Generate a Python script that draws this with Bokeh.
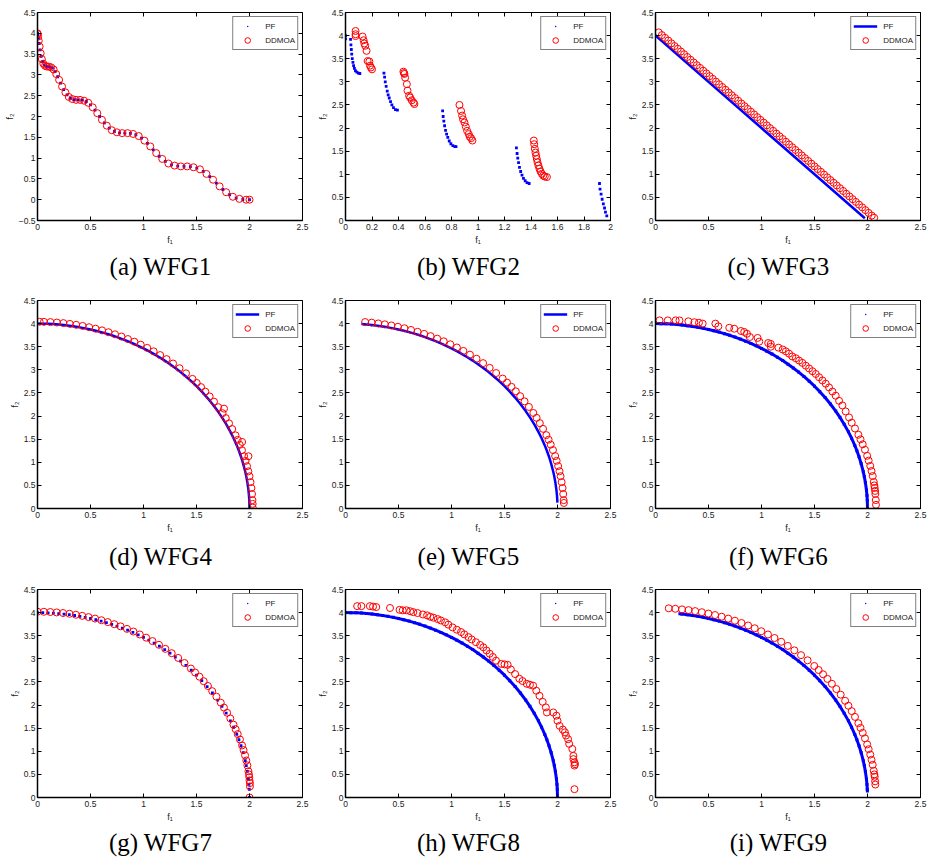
from bokeh.plotting import figure
from bokeh.layouts import gridplot
from bokeh.models import FixedTicker, CustomJSTickFormatter, Range1d, LinearAxis
from bokeh.embed import file_html
from bokeh.resources import INLINE

# ---------------- data ----------------
X_TICKS = [0, 0.5, 1, 1.5, 2, 2.5]
X_TICKS_B = [0, 0.2, 0.4, 0.6, 0.8, 1, 1.2, 1.4, 1.6, 1.8, 2]
Y_TICKS = [0, 0.5, 1, 1.5, 2, 2.5, 3, 3.5, 4, 4.5]
Y_TICKS_A = [-0.5, 0, 0.5, 1, 1.5, 2, 2.5, 3, 3.5, 4, 4.5]

CAPTIONS = ["(a) WFG1", "(b) WFG2", "(c) WFG3", "(d) WFG4", "(e) WFG5",
            "(f) WFG6", "(g) WFG7", "(h) WFG8", "(i) WFG9"]

# WFG1
WFG1_PF_F1 = [0.000, 0.001, 0.004, 0.009, 0.016, 0.025, 0.035, 0.048, 0.063, 0.079,
              0.098, 0.118, 0.140, 0.165, 0.190, 0.218, 0.247, 0.279, 0.311, 0.346,
              0.382, 0.420, 0.459, 0.500, 0.542, 0.586, 0.631, 0.677, 0.725, 0.774,
              0.824, 0.876, 0.928, 0.982, 1.037, 1.092, 1.148, 1.206, 1.264, 1.323,
              1.382, 1.442, 1.503, 1.564, 1.625, 1.687, 1.749, 1.812, 1.874, 1.937, 2.000]
WFG1_PF_F2 = [4.000, 3.995, 3.961, 3.881, 3.755, 3.600, 3.445, 3.319, 3.239, 3.205,
              3.200, 3.195, 3.161, 3.081, 2.955, 2.800, 2.645, 2.519, 2.439, 2.405,
              2.400, 2.395, 2.361, 2.281, 2.155, 2.000, 1.845, 1.719, 1.639, 1.605,
              1.600, 1.595, 1.561, 1.481, 1.355, 1.200, 1.045, 0.919, 0.839, 0.805,
              0.800, 0.795, 0.761, 0.681, 0.555, 0.400, 0.245, 0.119, 0.039, 0.005, 0.000]
WFG1_DD_F1 = [0.000, 0.002, 0.006, 0.012, 0.020, 0.030, 0.041, 0.055, 0.071, 0.088, 0.108,
              0.129, 0.152, 0.177, 0.204, 0.232, 0.263, 0.295, 0.328, 0.364, 0.401,
              0.439, 0.479, 0.521, 0.564, 0.608, 0.654, 0.701, 0.749, 0.799, 0.850,
              0.902, 0.955, 1.009, 1.064, 1.120, 1.177, 1.235, 1.293, 1.352, 1.412,
              1.472, 1.533, 1.594, 1.656, 1.718, 1.780, 1.843, 1.905, 1.968, 2.000]
WFG1_DD_F2 = [4.00, 3.98, 3.92, 3.82, 3.68, 3.52, 3.38, 3.27, 3.22, 3.20, 3.20,
              3.18, 3.13, 3.02, 2.88, 2.72, 2.58, 2.47, 2.42, 2.40, 2.40,
              2.38, 2.33, 2.22, 2.08, 1.92, 1.78, 1.67, 1.62, 1.60, 1.60,
              1.58, 1.53, 1.42, 1.28, 1.12, 0.98, 0.87, 0.82, 0.80, 0.80,
              0.78, 0.73, 0.62, 0.48, 0.32, 0.18, 0.07, 0.02, 0.00, 0.00]

# WFG2
WFG2_PF_F1 = [0.000, 0.000, 0.038, 0.041, 0.044, 0.047, 0.051, 0.056, 0.061, 0.067, 0.075, 0.086, 0.097, 0.108,
              0.290, 0.295, 0.300, 0.307, 0.315, 0.322, 0.330, 0.340, 0.350, 0.362, 0.377, 0.392,
              0.733, 0.737, 0.742, 0.748, 0.755, 0.763, 0.772, 0.783, 0.795, 0.810, 0.825, 0.834,
              1.290, 1.295, 1.300, 1.306, 1.313, 1.322, 1.332, 1.343, 1.356, 1.370, 1.386,
              1.917, 1.921, 1.929, 1.937, 1.946, 1.955, 1.962, 1.972]
WFG2_PF_F2 = [4.00, 3.93, 3.92, 3.80, 3.70, 3.60, 3.50, 3.42, 3.35, 3.29, 3.24, 3.21, 3.19, 3.18,
              3.19, 3.10, 3.00, 2.90, 2.80, 2.72, 2.65, 2.57, 2.50, 2.44, 2.40, 2.39,
              2.37, 2.25, 2.15, 2.05, 1.95, 1.87, 1.80, 1.72, 1.66, 1.62, 1.60, 1.60,
              1.57, 1.45, 1.35, 1.25, 1.15, 1.06, 0.98, 0.91, 0.86, 0.82, 0.80,
              0.80, 0.68, 0.57, 0.46, 0.36, 0.27, 0.18, 0.10]
WFG2_DD_F1 = [0.076, 0.076, 0.076, 0.129, 0.137, 0.142, 0.149, 0.159, 0.167, 0.180, 0.185, 0.192, 0.200,
              0.437, 0.441, 0.445, 0.450, 0.463, 0.468, 0.480, 0.488, 0.500, 0.513, 0.520,
              0.860, 0.872, 0.880, 0.887, 0.898, 0.908, 0.918, 0.930, 0.938, 0.948, 0.958,
              1.421, 1.424, 1.429, 1.434, 1.439, 1.444, 1.449, 1.456, 1.464, 1.472, 1.482, 1.492, 1.504, 1.520]
WFG2_DD_F2 = [4.10, 4.03, 3.99, 3.98, 3.90, 3.83, 3.78, 3.67, 3.45, 3.44, 3.35, 3.31, 3.27,
              3.22, 3.19, 3.17, 3.09, 2.95, 2.81, 2.70, 2.66, 2.60, 2.55, 2.52,
              2.50, 2.37, 2.27, 2.19, 2.12, 2.03, 1.94, 1.87, 1.81, 1.78, 1.73,
              1.73, 1.65, 1.55, 1.47, 1.40, 1.33, 1.26, 1.19, 1.12, 1.06, 1.01, 0.97, 0.95, 0.94]

# WFG3
WFG3_PF_F1 = [0.0, 0.5, 1.0, 1.5, 1.975]
WFG3_PF_F2 = [4.0, 3.0, 2.0, 1.0, 0.05]
WFG3_DD_F1 = [0.03, 0.06, 0.09, 0.12, 0.15, 0.18, 0.21, 0.24, 0.27, 0.30,
              0.33, 0.36, 0.39, 0.42, 0.45, 0.48, 0.51, 0.54, 0.57, 0.60,
              0.63, 0.66, 0.69, 0.72, 0.75, 0.78, 0.81, 0.84, 0.87, 0.90,
              0.93, 0.96, 0.99, 1.02, 1.05, 1.08, 1.11, 1.14, 1.17, 1.20,
              1.23, 1.26, 1.29, 1.32, 1.35, 1.38, 1.41, 1.44, 1.47, 1.50,
              1.53, 1.56, 1.59, 1.62, 1.65, 1.68, 1.71, 1.74, 1.77, 1.80,
              1.83, 1.86, 1.89, 1.92, 1.95, 1.98, 2.01, 2.04, 2.063]
WFG3_DD_F2 = [4.070, 4.011, 3.952, 3.893, 3.833, 3.774, 3.715, 3.656, 3.597, 3.538,
              3.478, 3.419, 3.360, 3.301, 3.242, 3.183, 3.123, 3.064, 3.005, 2.946,
              2.887, 2.828, 2.768, 2.709, 2.650, 2.591, 2.532, 2.473, 2.413, 2.354,
              2.295, 2.236, 2.177, 2.118, 2.059, 1.999, 1.940, 1.881, 1.822, 1.763,
              1.704, 1.644, 1.585, 1.526, 1.467, 1.408, 1.349, 1.289, 1.230, 1.171,
              1.112, 1.053, 0.994, 0.934, 0.875, 0.816, 0.757, 0.698, 0.639, 0.579,
              0.520, 0.461, 0.402, 0.343, 0.284, 0.224, 0.165, 0.106, 0.060]

# concave true front shared by WFG4, WFG6, WFG7, WFG8
PF_CONCAVE_F1 = [0, 0.05, 0.1, 0.15, 0.2, 0.25, 0.3, 0.35, 0.4, 0.45, 0.5, 0.55, 0.6, 0.65,
                 0.7, 0.75, 0.8, 0.85, 0.9, 0.95, 1.0, 1.05, 1.1, 1.15, 1.2, 1.25, 1.3, 1.35,
                 1.4, 1.45, 1.5, 1.55, 1.6, 1.65, 1.7, 1.74, 1.78, 1.82, 1.85, 1.88, 1.9,
                 1.92, 1.94, 1.96, 1.97, 1.98, 1.99, 1.995, 1.998, 2.0]
PF_CONCAVE_F2 = [4.000, 3.999, 3.995, 3.989, 3.980, 3.969, 3.955, 3.938, 3.919, 3.897,
                 3.873, 3.846, 3.816, 3.783, 3.747, 3.708, 3.666, 3.621, 3.572, 3.520,
                 3.464, 3.404, 3.341, 3.273, 3.200, 3.122, 3.040, 2.951, 2.857, 2.755,
                 2.646, 2.528, 2.400, 2.261, 2.107, 1.972, 1.824, 1.658, 1.520, 1.365,
                 1.249, 1.120, 0.972, 0.796, 0.690, 0.564, 0.399, 0.283, 0.179, 0.000]

# WFG4
WFG4_DD_F1 = [0.020, 0.061, 0.122, 0.183, 0.244, 0.305, 0.365, 0.426, 0.487, 0.548,
              0.609, 0.670, 0.731, 0.792, 0.853, 0.914, 0.974, 1.035, 1.096, 1.157,
              1.218, 1.279, 1.340, 1.401, 1.462, 1.502, 1.543, 1.583, 1.624, 1.665,
              1.705, 1.746, 1.760, 1.776, 1.807, 1.837, 1.868, 1.888, 1.908, 1.930,
              1.929, 1.949, 1.963, 1.977, 1.990, 1.989, 2.000, 2.010, 2.018, 2.024,
              2.028, 2.030, 2.030]
WFG4_DD_F2 = [4.040, 4.038, 4.033, 4.024, 4.011, 3.994, 3.974, 3.950, 3.922, 3.890,
              3.854, 3.814, 3.769, 3.720, 3.666, 3.608, 3.544, 3.475, 3.400, 3.319,
              3.232, 3.137, 3.035, 2.924, 2.804, 2.717, 2.626, 2.528, 2.424, 2.312,
              2.192, 2.062, 2.160, 1.956, 1.842, 1.719, 1.583, 1.485, 1.378, 1.440,
              1.261, 1.131, 1.029, 0.915, 1.130, 0.804, 0.697, 0.570, 0.442, 0.313,
              0.181, 0.100, 0.020]

# WFG5
WFG5_PF_F1 = [0.15, 0.2, 0.25, 0.3, 0.35, 0.4, 0.45, 0.5, 0.55, 0.6, 0.65, 0.7, 0.75, 0.8,
              0.85, 0.9, 0.95, 1.0, 1.05, 1.1, 1.15, 1.2, 1.25, 1.3, 1.35, 1.4, 1.45, 1.5,
              1.55, 1.6, 1.65, 1.7, 1.74, 1.78, 1.82, 1.85, 1.88, 1.9, 1.92, 1.94, 1.96,
              1.97, 1.98, 1.99, 1.995, 1.998, 1.999]
WFG5_PF_F2 = [3.989, 3.980, 3.969, 3.955, 3.938, 3.919, 3.897, 3.873, 3.846, 3.816,
              3.783, 3.747, 3.708, 3.666, 3.621, 3.572, 3.520, 3.464, 3.404, 3.341,
              3.273, 3.200, 3.122, 3.040, 2.951, 2.857, 2.755, 2.646, 2.528, 2.400,
              2.261, 2.107, 1.972, 1.824, 1.658, 1.520, 1.365, 1.249, 1.120, 0.972,
              0.796, 0.690, 0.564, 0.399, 0.283, 0.179, 0.126]
WFG5_DD_F1 = [0.185, 0.247, 0.309, 0.371, 0.433, 0.494, 0.556, 0.618, 0.680, 0.742,
              0.803, 0.865, 0.927, 0.989, 1.051, 1.112, 1.174, 1.236, 1.298, 1.360,
              1.421, 1.483, 1.524, 1.566, 1.607, 1.648, 1.689, 1.730, 1.772, 1.803,
              1.833, 1.864, 1.895, 1.916, 1.936, 1.957, 1.978, 1.992, 2.006, 2.019,
              2.029, 2.039, 2.048, 2.054, 2.058, 2.060]
WFG5_DD_F2 = [4.034, 4.021, 4.004, 3.984, 3.960, 3.932, 3.900, 3.863, 3.823, 3.778,
              3.729, 3.675, 3.617, 3.553, 3.484, 3.409, 3.328, 3.240, 3.145, 3.043,
              2.931, 2.811, 2.724, 2.632, 2.534, 2.430, 2.318, 2.197, 2.067, 1.961,
              1.847, 1.723, 1.587, 1.489, 1.382, 1.265, 1.134, 1.032, 0.918, 0.806,
              0.699, 0.571, 0.443, 0.313, 0.181, 0.120]

# WFG6
WFG6_DD_F1 = [0.038, 0.116, 0.190, 0.226, 0.310, 0.367, 0.410, 0.445, 0.565, 0.593,
              0.696, 0.743, 0.806, 0.837, 0.863, 0.890, 0.963, 0.979, 1.063, 1.088,
              1.088, 1.160, 1.200, 1.230, 1.260, 1.290, 1.324, 1.355, 1.386, 1.418,
              1.449, 1.481, 1.512, 1.543, 1.575, 1.606, 1.637, 1.669, 1.700, 1.732,
              1.763, 1.794, 1.826, 1.851, 1.882, 1.914, 1.934, 1.955, 1.976, 1.997,
              2.011, 2.026, 2.038, 2.049, 2.059, 2.064, 2.068, 2.072, 2.074, 2.078, 2.080]
WFG6_DD_F2 = [4.07, 4.07, 4.07, 4.07, 4.05, 4.03, 4.02, 4.00, 4.00, 3.94,
              3.91, 3.89, 3.84, 3.82, 3.78, 3.71, 3.69, 3.61, 3.58, 3.56,
              3.50, 3.48, 3.44, 3.40, 3.35, 3.29, 3.25, 3.20, 3.15, 3.09,
              3.03, 2.97, 2.91, 2.84, 2.77, 2.70, 2.62, 2.53, 2.44, 2.33,
              2.23, 2.10, 1.97, 1.856, 1.731, 1.595, 1.496, 1.389, 1.271, 1.140,
              1.037, 0.922, 0.810, 0.702, 0.574, 0.50, 0.445, 0.38, 0.315, 0.182, 0.08]

# WFG7
WFG7_DD_F1 = [0.000, 0.060, 0.121, 0.181, 0.241, 0.302, 0.362, 0.422, 0.482, 0.543,
              0.603, 0.663, 0.724, 0.784, 0.844, 0.905, 0.965, 1.025, 1.085, 1.146,
              1.206, 1.266, 1.327, 1.387, 1.447, 1.487, 1.528, 1.568, 1.608, 1.648,
              1.688, 1.729, 1.759, 1.789, 1.819, 1.849, 1.869, 1.889, 1.910, 1.930,
              1.944, 1.958, 1.970, 1.980, 1.990, 1.995, 1.998, 2.000, 2.004, 2.004, 2.000]
WFG7_DD_F2 = [4.020, 4.018, 4.013, 4.004, 3.991, 3.975, 3.954, 3.930, 3.903, 3.871,
              3.835, 3.795, 3.750, 3.702, 3.648, 3.590, 3.527, 3.458, 3.384, 3.303,
              3.216, 3.122, 3.020, 2.910, 2.790, 2.704, 2.613, 2.516, 2.412, 2.301,
              2.181, 2.051, 1.946, 1.833, 1.710, 1.576, 1.478, 1.372, 1.255, 1.126,
              1.024, 0.911, 0.800, 0.694, 0.567, 0.500, 0.440, 0.370, 0.311, 0.240, 0.000]

# WFG8
WFG8_DD_F1 = [0.11, 0.15, 0.23, 0.26, 0.29, 0.42, 0.51, 0.54, 0.575, 0.61,
              0.64, 0.68, 0.73, 0.77, 0.80, 0.83, 0.87, 0.90, 0.94, 0.97,
              1.01, 1.05, 1.09, 1.12, 1.16, 1.19, 1.23, 1.27, 1.30, 1.33,
              1.36, 1.39, 1.42, 1.47, 1.50, 1.53, 1.56, 1.60, 1.64, 1.67,
              1.71, 1.74, 1.77, 1.80, 1.83, 1.86, 1.89, 1.90, 1.96, 1.99,
              2.00, 2.02, 2.05, 2.07, 2.08, 2.10, 2.11, 2.14, 2.15, 2.15,
              2.16, 2.16, 2.165, 2.16]
WFG8_DD_F2 = [4.14, 4.14, 4.14, 4.13, 4.12, 4.10, 4.06, 4.05, 4.05, 4.03,
              4.01, 3.99, 3.96, 3.94, 3.91, 3.89, 3.86, 3.83, 3.79, 3.74,
              3.68, 3.63, 3.58, 3.53, 3.47, 3.42, 3.36, 3.30, 3.25, 3.18,
              3.11, 3.04, 2.96, 2.89, 2.88, 2.87, 2.77, 2.67, 2.57, 2.52,
              2.46, 2.44, 2.42, 2.31, 2.20, 2.07, 1.95, 1.84, 1.84, 1.77,
              1.66, 1.55, 1.47, 1.41, 1.34, 1.26, 1.16, 1.05, 0.90, 0.83,
              0.76, 0.69, 0.72, 0.18]

# WFG9
WFG9_PF_F1 = [0.23, 0.25, 0.3, 0.35, 0.4, 0.45, 0.5, 0.55, 0.6, 0.65, 0.7, 0.75, 0.8, 0.85,
              0.9, 0.95, 1.0, 1.05, 1.1, 1.15, 1.2, 1.25, 1.3, 1.35, 1.4, 1.45, 1.5, 1.55,
              1.6, 1.65, 1.7, 1.74, 1.78, 1.82, 1.85, 1.88, 1.9, 1.92, 1.94, 1.96, 1.97,
              1.98, 1.99, 1.995, 1.998, 1.999]
WFG9_PF_F2 = [3.973, 3.969, 3.955, 3.938, 3.919, 3.897, 3.873, 3.846, 3.816, 3.783,
              3.747, 3.708, 3.666, 3.621, 3.572, 3.520, 3.464, 3.404, 3.341, 3.273,
              3.200, 3.122, 3.040, 2.951, 2.857, 2.755, 2.646, 2.528, 2.400, 2.261,
              2.107, 1.972, 1.824, 1.658, 1.520, 1.365, 1.249, 1.120, 0.972, 0.796,
              0.690, 0.564, 0.399, 0.283, 0.179, 0.140]
WFG9_DD_F1 = [0.125, 0.187, 0.250, 0.312, 0.374, 0.437, 0.499, 0.562, 0.624, 0.686,
              0.749, 0.811, 0.874, 0.936, 0.998, 1.061, 1.123, 1.186, 1.248, 1.310,
              1.373, 1.435, 1.498, 1.539, 1.581, 1.622, 1.664, 1.706, 1.747, 1.789,
              1.820, 1.851, 1.882, 1.914, 1.934, 1.955, 1.976, 1.997, 2.011, 2.026,
              2.038, 2.049, 2.059, 2.065, 2.068, 2.072, 2.074]
WFG9_DD_F2 = [4.093, 4.083, 4.070, 4.054, 4.033, 4.009, 3.980, 3.948, 3.911, 3.870,
              3.825, 3.775, 3.721, 3.661, 3.597, 3.527, 3.451, 3.369, 3.280, 3.184,
              3.080, 2.968, 2.845, 2.758, 2.665, 2.566, 2.460, 2.347, 2.225, 2.092,
              1.985, 1.869, 1.744, 1.607, 1.507, 1.399, 1.280, 1.148, 1.045, 0.929,
              0.816, 0.707, 0.578, 0.500, 0.448, 0.350, 0.280]

# ---------------- styling ----------------
SANS = "Liberation Sans"
SERIF = "Liberation Serif"
BLUE = "#0000ff"
RED = "#ff0000"
FMT = CustomJSTickFormatter(code="return (Math.round(tick*10)/10).toString().replace('-', '\u2212');")
NBSP = "\u00a0"


def make_panel(caption, pf_x, pf_y, pf_mode, dd_x, dd_y, xr, yr, xt, yt,
               col=0, row=0):
    left = 37 if col == 0 else 35
    right = 8 if col == 0 else 10
    last_row = row == 2
    p = figure(frame_width=265, frame_height=208,
               x_range=Range1d(*xr), y_range=Range1d(*yr),
               output_backend="svg", toolbar_location=None,
               min_border_left=left, min_border_right=right,
               min_border_top=12 if not last_row else 13,
               min_border_bottom=0 if last_row else 68,
               title=caption + NBSP * 3, title_location="below")
    p.xgrid.visible = False
    p.ygrid.visible = False
    p.outline_line_color = "black"
    p.outline_line_width = 1
    p.background_fill_color = "white"
    p.border_fill_color = "white"

    p.title.text_font = SERIF
    p.title.text_font_size = "25px"
    p.title.text_font_style = "normal"
    p.title.text_color = "black"
    p.title.align = "center"
    p.title.standoff = {0: 6, 1: 10, 2: 4}[row]

    p.xaxis.ticker = FixedTicker(ticks=xt)
    p.yaxis.ticker = FixedTicker(ticks=yt)
    p.xaxis.axis_label = "f\u2081"
    p.yaxis.axis_label = "f\u2082"
    for ax in (p.xaxis[0], p.yaxis[0]):
        ax.formatter = FMT
        ax.major_tick_in = 4
        ax.major_tick_out = 0
        ax.minor_tick_line_color = None
        ax.axis_line_width = 1.5
        ax.axis_line_color = "black"
        ax.major_tick_line_color = "black"
        ax.major_label_text_font = SANS
        ax.major_label_text_font_size = "8.5px"
        ax.major_label_text_color = "#1a1a1a"
        ax.major_label_standoff = 3
        ax.axis_label_text_font = SANS
        ax.axis_label_text_font_size = "9px"
        ax.axis_label_text_font_style = "normal"
        ax.axis_label_text_color = "#1a1a1a"
        ax.axis_label_standoff = 2
    p.yaxis[0].major_label_standoff = 2
    p.yaxis[0].axis_label_standoff = 1

    for loc, tk in (("above", xt), ("right", yt)):
        ax = LinearAxis(ticker=FixedTicker(ticks=tk), major_tick_in=4, major_tick_out=0,
                        minor_tick_line_color=None, axis_line_color=None,
                        major_label_text_font_size="1px", major_label_text_color=None,
                        major_label_standoff=0)
        p.add_layout(ax, loc)

    if pf_mode == "line":
        p.line(pf_x, pf_y, line_color=BLUE, line_width=2.5, legend_label="PF")
    else:
        if pf_mode == "band":
            p.line(pf_x, pf_y, line_color=BLUE, line_width=3)
            size = 3
        else:
            size = 2.8
        p.scatter(pf_x, pf_y, marker="square", size=size, fill_color=BLUE, line_color=None)
        # the same PF points as tiny dots (hidden under the squares); gives the
        # legend its small blue dot sample, as in the reference
        p.scatter(pf_x, pf_y, marker="dot", size=size, line_color=BLUE, fill_color=BLUE,
                  legend_label="PF")
    p.scatter(dd_x, dd_y, marker="circle", size=7, fill_color=None, line_color=RED,
              line_width=1, legend_label="DDMOA")

    leg = p.legend[0]
    leg.location = "top_right"
    leg.margin = 4
    leg.padding = 2
    leg.spacing = -2
    leg.glyph_width = 24
    leg.glyph_height = 14
    leg.label_height = 11
    leg.label_standoff = 6
    leg.label_text_font = SANS
    leg.label_text_font_size = "8px"
    leg.label_text_color = "#1a1a1a"
    leg.border_line_color = "black"
    leg.border_line_width = 1
    leg.background_fill_alpha = 1
    return p


pa = make_panel(CAPTIONS[0], WFG1_PF_F1, WFG1_PF_F2, "dots", WFG1_DD_F1, WFG1_DD_F2,
                (0, 2.5), (-0.5, 4.5), X_TICKS, Y_TICKS_A, col=0, row=0)
pb = make_panel(CAPTIONS[1], WFG2_PF_F1, WFG2_PF_F2, "dots", WFG2_DD_F1, WFG2_DD_F2,
                (0, 2), (0, 4.5), X_TICKS_B, Y_TICKS, col=1, row=0)
pc = make_panel(CAPTIONS[2], WFG3_PF_F1, WFG3_PF_F2, "line", WFG3_DD_F1, WFG3_DD_F2,
                (0, 2.5), (0, 4.5), X_TICKS, Y_TICKS, col=2, row=0)
pd = make_panel(CAPTIONS[3], PF_CONCAVE_F1, PF_CONCAVE_F2, "line", WFG4_DD_F1, WFG4_DD_F2,
                (0, 2.5), (0, 4.5), X_TICKS, Y_TICKS, col=0, row=1)
pe = make_panel(CAPTIONS[4], WFG5_PF_F1, WFG5_PF_F2, "line", WFG5_DD_F1, WFG5_DD_F2,
                (0, 2.5), (0, 4.5), X_TICKS, Y_TICKS, col=1, row=1)
pf = make_panel(CAPTIONS[5], PF_CONCAVE_F1, PF_CONCAVE_F2, "band", WFG6_DD_F1, WFG6_DD_F2,
                (0, 2.5), (0, 4.5), X_TICKS, Y_TICKS, col=2, row=1)
pg = make_panel(CAPTIONS[6], PF_CONCAVE_F1, PF_CONCAVE_F2, "dots", WFG7_DD_F1, WFG7_DD_F2,
                (0, 2.5), (0, 4.5), X_TICKS, Y_TICKS, col=0, row=2)
ph = make_panel(CAPTIONS[7], PF_CONCAVE_F1, PF_CONCAVE_F2, "band", WFG8_DD_F1, WFG8_DD_F2,
                (0, 2.5), (0, 4.5), X_TICKS, Y_TICKS, col=1, row=2)
pi = make_panel(CAPTIONS[8], WFG9_PF_F1, WFG9_PF_F2, "band", WFG9_DD_F1, WFG9_DD_F2,
                (0, 2.5), (0, 4.5), X_TICKS, Y_TICKS, col=2, row=2)

grid = gridplot([[pa, pb, pc], [pd, pe, pf], [pg, ph, pi]], toolbar_location=None)
open("out.html", "w").write(file_html(grid, INLINE))
